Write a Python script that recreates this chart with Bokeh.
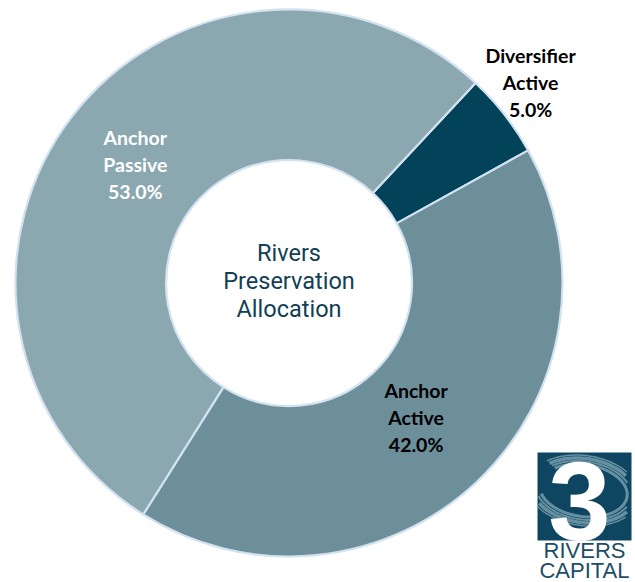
import math
from bokeh.plotting import figure
from bokeh.models import Range1d, ColumnDataSource
from bokeh.core.properties import value
from bokeh.embed import file_html
from bokeh.resources import INLINE

# ---- data ----
categories = ["Diversifier Active", "Anchor Active", "Anchor Passive"]
label_lines = [["Diversifier", "Active"], ["Anchor", "Active"], ["Anchor", "Passive"]]
shares = [5.0, 42.0, 53.0]
colors = ["#03435A", "#6C8F9A", "#8BA7AF"]
label_colors = ["#000000", "#000000", "#FFFFFF"]
center_title = ["Rivers", "Preservation", "Allocation"]
logo_words = ["RIVERS", "CAPITAL"]

W, H = 635, 582
p = figure(width=W, height=H, output_backend="svg", toolbar_location=None,
           x_range=Range1d(0, W), y_range=Range1d(0, H), min_border=0)
p.axis.visible = False
p.grid.visible = False
p.outline_line_color = None
p.background_fill_color = "white"

cx, cy = 288.5, 299.5
r_out, r_in = 273.5, 123
start_deg = 47.0  # first slice boundary, slices run clockwise

starts, ends, mids = [], [], []
a = start_deg
total = sum(shares)
for s in shares:
    sweep = s / total * 360.0
    starts.append(math.radians(a))
    ends.append(math.radians(a - sweep))
    mids.append(a - sweep / 2)
    a -= sweep

src = ColumnDataSource(dict(start=starts, end=ends, color=colors))
p.annular_wedge(x=cx, y=cy, inner_radius=r_in, outer_radius=r_out,
                start_angle="start", end_angle="end", direction="clock",
                fill_color="color", line_color="#D3E2F1", line_width=2.2,
                source=src)

# center title
for i, t in enumerate(center_title):
    p.text(x=[cx], y=[cy + 2 - (i - 1) * 28], text=[t], text_align="center",
           text_baseline="middle", text_font=value("Roboto"), text_font_size="23.5px",
           text_font_style="normal", text_color="#123F55")

# slice labels
label_r = [314, 185, 194]
label_da = [1.7, 0.0, 0.0]
for i in range(len(categories)):
    ang = math.radians(mids[i] + label_da[i])
    lx = cx + label_r[i] * math.cos(ang)
    ly = cy + label_r[i] * math.sin(ang)
    lines = label_lines[i] + [f"{shares[i]:.1f}%"]
    for j, t in enumerate(lines):
        p.text(x=[lx], y=[ly - (j - 1) * 27], text=[t], text_align="center",
               text_baseline="middle", text_font=value("Lato"),
               text_font_size="19.5px", text_font_style="bold",
               text_color=label_colors[i])

# ---- logo (3 RIVERS CAPITAL) ----
lx0, lx1 = 537, 631
ly0, ly1 = 42, 130
p.quad(left=lx0, right=lx1, bottom=ly0, top=ly1, fill_color="#0E4560", line_color=None)
# swoosh: elliptical bands
ecx, ecy, tilt = 583.0, 92.0, math.radians(-8)
for k, (ea, eb, lw) in enumerate([(44, 26, 3.0), (48, 29, 2.0), (52, 32, 3.5), (56, 35, 1.5)]):
    xs, ys = [], []
    for d in range(200, 500, 4):
        t = math.radians(d)
        ex, ey = ea * math.cos(t), eb * math.sin(t)
        x = ecx + ex * math.cos(tilt) - ey * math.sin(tilt)
        y = ecy + ex * math.sin(tilt) + ey * math.cos(tilt)
        if lx0 <= x <= lx1 - 4 and ly0 + 4 <= y <= ly1 - 2:
            xs.append(x)
            ys.append(y)
        else:
            xs.append(float("nan"))
            ys.append(float("nan"))
    p.line(xs, ys, line_color="#6F98A8", line_width=lw, line_alpha=0.9)
p.text(x=[579], y=[81], text=["3"], text_align="center", text_baseline="middle",
       text_font=value("Liberation Sans"), text_font_size="112px",
       text_font_style="bold", text_color="white")
for i, wd in enumerate(logo_words):
    p.text(x=[584], y=[32 - i * 19.5], text=[wd], text_align="center",
           text_baseline="middle", text_font=value("Liberation Sans"),
           text_font_size="22px", text_color="#1C4E64")

open("out.html", "w").write(file_html(p, INLINE))
